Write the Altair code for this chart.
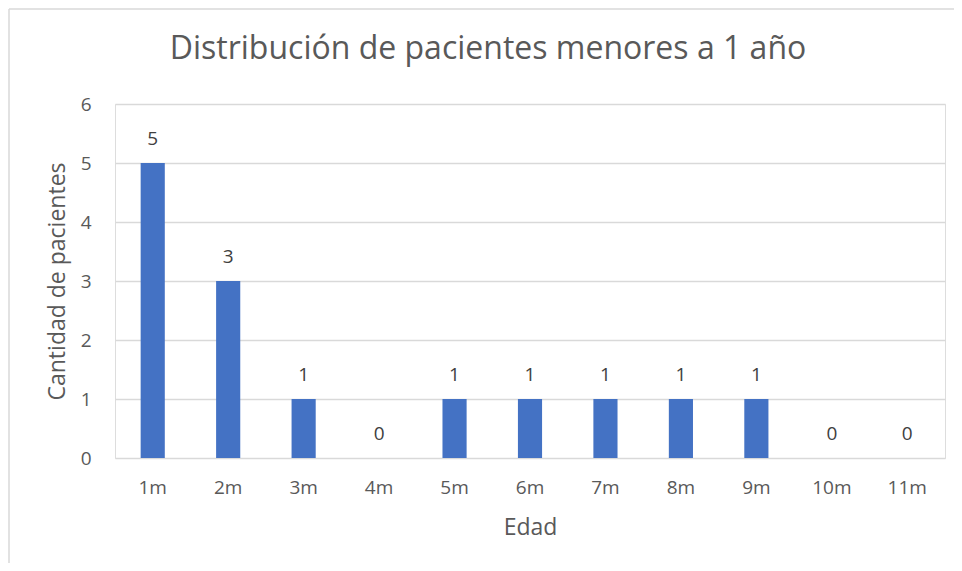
import altair as alt
import pandas as pd

categories = ["1m", "2m", "3m", "4m", "5m", "6m", "7m", "8m", "9m", "10m", "11m"]
counts = [5, 3, 1, 0, 1, 1, 1, 1, 1, 0, 0]
title_text = ["Distribución de pacientes menores a 1 año"]

df = pd.DataFrame({"Edad": categories, "Cantidad": counts})

FONT = "Open Sans"
GRAY = "#595959"
W, H = 830, 354

x_enc = alt.X("Edad:N", sort=categories, title="Edad",
              scale=alt.Scale(paddingInner=0.68, paddingOuter=0.34),
              axis=alt.Axis(labelAngle=0, ticks=False, domain=False,
                            labelPadding=20, titlePadding=19,
                            labelFontSize=19, titleFontSize=23,
                            labelColor=GRAY, titleColor=GRAY,
                            labelFont=FONT, titleFont=FONT,
                            titleFontWeight="normal"))
y_enc = alt.Y("Cantidad:Q", title="Cantidad de pacientes",
              scale=alt.Scale(domain=[0, 6], nice=False),
              axis=alt.Axis(values=[0, 1, 2, 3, 4, 5, 6], format="d",
                            ticks=False, domain=False,
                            gridColor="#d9d9d9", gridWidth=1.3,
                            labelPadding=24, titlePadding=11,
                            labelFontSize=19, titleFontSize=23,
                            labelColor=GRAY, titleColor=GRAY,
                            labelFont=FONT, titleFont=FONT,
                            titleFontWeight="normal"))

base = alt.Chart(df)

bars = base.mark_bar(color="#4472C4").encode(x=x_enc, y=y_enc)

labels = base.mark_text(dy=-24, fontSize=19, font=FONT, color="#404040").encode(
    x=alt.X("Edad:N", sort=categories),
    y="Cantidad:Q",
    text="Cantidad:Q",
)

title = alt.Chart(pd.DataFrame({"t": title_text})).mark_text(
    fontSize=32, font=FONT, color=GRAY, align="center", baseline="middle"
).encode(x=alt.value(373), y=alt.value(-55), text="t:N")

border_top = alt.Chart(pd.DataFrame({"a": [0]})).mark_rule(color="#d9d9d9", strokeWidth=1.5).encode(
    x=alt.value(-106), x2=alt.value(843), y=alt.value(-95))
border_left = alt.Chart(pd.DataFrame({"a": [0]})).mark_rule(color="#d9d9d9", strokeWidth=1.5).encode(
    x=alt.value(-106), y=alt.value(-95), y2=alt.value(470))

chart = alt.layer(bars, labels, title, border_top, border_left).properties(
    width=W, height=H,
    autosize=alt.AutoSizeParams(type="none"),
    padding={"left": 107, "top": 96, "right": 9, "bottom": 105},
).configure_view(stroke=None).configure(background="white")

chart.save("out.html", embed_options={"renderer": "svg", "actions": False})
